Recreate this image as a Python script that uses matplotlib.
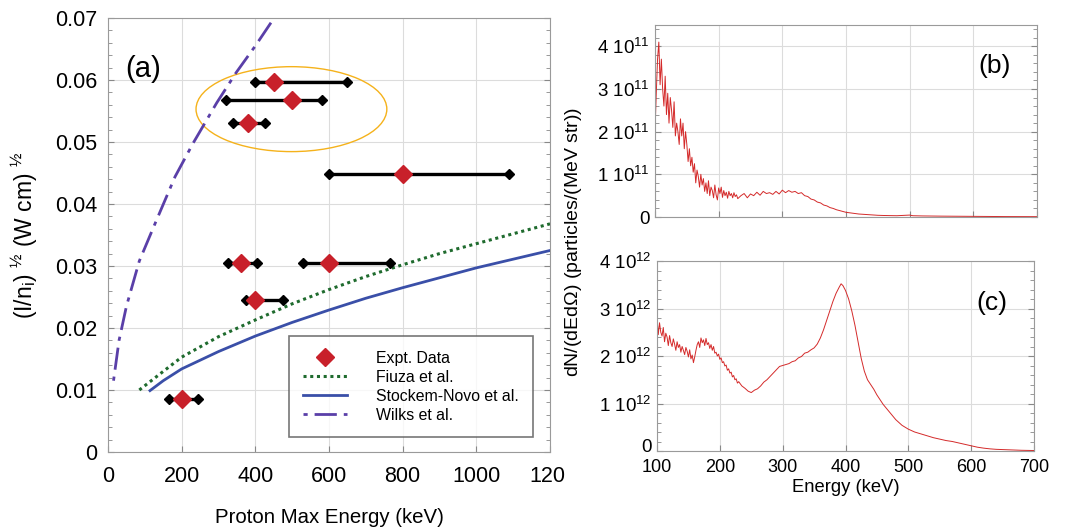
import numpy as np
import matplotlib
matplotlib.use("Agg")
import matplotlib.pyplot as plt
from matplotlib.patches import Ellipse
from matplotlib.transforms import ScaledTranslation
from matplotlib.ticker import MultipleLocator, FixedLocator, FixedFormatter

plt.rcParams['font.family'] = ['Liberation Sans', 'DejaVu Sans']
plt.rcParams['mathtext.fontset'] = 'custom'
plt.rcParams['mathtext.rm'] = 'Liberation Sans'
plt.rcParams['mathtext.it'] = 'Liberation Sans:italic'

# ---- panel (a) data ----
expt_e = [200, 360, 400, 600, 800, 380, 500, 450]
expt_y = [0.0085, 0.0305, 0.0245, 0.0305, 0.0448, 0.0530, 0.0567, 0.0597]
expt_lo = [165, 325, 375, 530, 600, 340, 320, 400]
expt_hi = [245, 405, 475, 765, 1090, 425, 580, 650]

wilks_e = [15, 30, 50, 85, 131, 182, 231, 295, 348, 400, 451]
wilks_y = [0.0115, 0.0180, 0.0235, 0.0308, 0.0373, 0.0444, 0.0498, 0.0563, 0.0612, 0.0655, 0.0700]

fiuza_e = [85, 150, 200, 300, 400, 500, 600, 700, 800, 900, 1000, 1100, 1200]
fiuza_y = [0.0100, 0.0130, 0.0153, 0.0186, 0.0213, 0.0239, 0.0262, 0.0283, 0.0302, 0.0320, 0.0336, 0.0352, 0.0368]

stock_e = [114, 150, 200, 250, 300, 400, 500, 600, 700, 800, 900, 1000, 1100, 1200]
stock_y = [0.0099, 0.0115, 0.0134, 0.0148, 0.0162, 0.0187, 0.0209, 0.0229, 0.0248, 0.0265, 0.0281, 0.0297, 0.0311, 0.0325]

# ---- panel (b) data (units of 1e11) ----
b_e = list(range(100, 232, 2)) + list(range(235, 405, 5)) + [410, 420, 430, 440, 450, 460, 480, 500, 505, 520, 550, 600, 650, 700]
b_v = [2.0, 2.9, 3.7, 4.1, 3.1, 3.7, 3.0, 2.6, 3.3, 2.4, 2.9, 2.2, 2.8, 2.5, 2.1, 2.7, 1.9, 2.2, 2.0, 1.7,
       2.3, 1.9, 2.2, 1.6, 2.0, 1.7, 1.3, 1.6, 1.2, 1.4, 1.05, 1.25, 0.8, 1.1, 0.95, 0.7, 1.0, 0.75, 0.9, 0.6,
       0.8, 0.55, 0.85, 0.5, 0.7, 0.62, 0.45, 0.75, 0.52, 0.4, 0.68, 0.55, 0.7, 0.46, 0.62, 0.5, 0.58, 0.44, 0.6, 0.5,
       0.55, 0.45, 0.57, 0.48, 0.52, 0.43,
       0.5, 0.55, 0.45, 0.54, 0.5, 0.58, 0.51, 0.6, 0.55, 0.57, 0.53, 0.6, 0.54, 0.63, 0.57, 0.62, 0.58, 0.6,
       0.55, 0.57, 0.5, 0.48, 0.42, 0.4, 0.35, 0.33, 0.28, 0.26, 0.22, 0.2, 0.17, 0.15, 0.13, 0.11,
       0.09, 0.07, 0.06, 0.05, 0.04, 0.035, 0.03, 0.045, 0.03, 0.025, 0.02, 0.015, 0.01, 0.008]

# ---- panel (c) data (units of 1e12) ----
c_e = sorted(set(list(range(100, 232, 2)) + list(range(235, 395, 5)) + [393, 396] + list(range(400, 500, 5)) +
                 [500, 510, 520, 530, 540, 550, 560, 570, 580, 590, 600, 610, 620, 630, 640, 660, 680, 700]))
c_v = [2.8, 2.45, 2.7, 2.5, 2.42, 2.6, 2.3, 2.48, 2.4, 2.22, 2.43, 2.28, 2.2, 2.36, 2.25, 2.12, 2.3, 2.18, 2.24, 2.08,
       2.2, 2.12, 2.03, 2.18, 2.1, 1.98, 2.13, 1.94, 2.02, 1.86, 1.98, 2.12, 2.24, 2.3, 2.18, 2.38, 2.28, 2.34, 2.22, 2.37,
       2.24, 2.28, 2.16, 2.24, 2.12, 2.2, 2.06, 2.08, 2.0, 2.04, 1.93, 1.96, 1.86, 1.88, 1.79, 1.81, 1.7, 1.73, 1.64, 1.66,
       1.56, 1.59, 1.5, 1.52, 1.43, 1.46,
       1.37, 1.32, 1.26, 1.23, 1.28, 1.31, 1.37, 1.45, 1.5, 1.57, 1.64, 1.71, 1.78, 1.8, 1.82, 1.84, 1.88, 1.9,
       1.96, 1.99, 2.06, 2.08, 2.13, 2.17, 2.25, 2.38, 2.55, 2.75, 2.95, 3.15, 3.32, 3.45,
       3.52, 3.48,
       3.38, 3.2, 2.95, 2.65, 2.3, 1.95, 1.68, 1.5, 1.4, 1.3, 1.18, 1.08, 0.98, 0.9, 0.82, 0.74, 0.66, 0.6, 0.54, 0.5,
       0.46, 0.4, 0.36, 0.32, 0.28, 0.25, 0.22, 0.2, 0.17, 0.14, 0.11, 0.08, 0.06, 0.045, 0.035, 0.025, 0.015, 0.01]

fig = plt.figure(figsize=(10.67, 5.31), dpi=100)
W, H = 1067, 531


def box(l, t, r, b):
    return [l / W, 1 - b / H, (r - l) / W, (b - t) / H]


spine_c = '#9a9a9a'
grid_c = '#dcdcdc'


def style(ax):
    for s in ax.spines.values():
        s.set_color(spine_c)
        s.set_linewidth(0.8)
    ax.grid(True, color=grid_c, linewidth=0.8)
    ax.set_axisbelow(True)
    ax.tick_params(which='both', direction='in', color='#888888', right=True)
    ax.tick_params(which='major', length=4)
    ax.tick_params(which='minor', length=3)


# ----- (a) -----
ax = fig.add_axes(box(108, 18, 550, 452))
style(ax)
ax.plot(wilks_e, wilks_y, color='#5a3fa8', lw=2, dashes=[1.5, 2.5, 8, 2.5], label='Wilks et al.', zorder=3)
ax.plot(fiuza_e, fiuza_y, color='#1f6b2e', lw=2.2, ls=(0, (1, 1.2)), label='Fiuza et al.', zorder=3)
ax.plot(stock_e, stock_y, color='#3a4fa8', lw=2, label='Stockem-Novo et al.', zorder=3)
for e, y, lo, hi in zip(expt_e, expt_y, expt_lo, expt_hi):
    ax.plot([lo, hi], [y, y], color='black', lw=2.4, marker='D', ms=5.5, zorder=4)
ax.plot(expt_e, expt_y, ls='none', marker='D', ms=9, color='#c8202a', mec='#c8202a', zorder=5, label='Expt. Data')
ax.add_patch(Ellipse((498, 0.0553), 518, 0.0137, fill=False, ec='#f5b21b', lw=1.0, zorder=2))
ax.set_xlim(0, 1200)
ax.set_ylim(0, 0.07)
ax.yaxis.set_minor_locator(MultipleLocator(0.002))
ax.set_xticks([0, 200, 400, 600, 800, 1000, 1200])
ax.set_xticklabels(['0', '200', '400', '600', '800', '1000', ''])
ax.set_yticks([0, 0.01, 0.02, 0.03, 0.04, 0.05, 0.06, 0.07])
ax.set_yticklabels(['0', '0.01', '0.02', '0.03', '0.04', '0.05', '0.06', '0.07'])
ax.tick_params(axis='x', which='major', labelsize=15.5, pad=10)
ax.tick_params(axis='y', which='major', labelsize=15.5, pad=8)
ax.annotate('120', xy=(1200, 0), xycoords=('data', 'axes fraction'), xytext=(-15, -10),
            textcoords='offset points', ha='left', va='top', fontsize=15.5, annotation_clip=False)
ax.set_xlabel('Proton Max Energy (keV)', fontsize=14.7, labelpad=15)
ax.set_ylabel(r'(I/n$_\mathregular{i}$) $^{\mathregular{½}}$ (W cm) $^{\mathregular{½}}$', fontsize=16.5)
ax.yaxis.set_label_coords(-0.155, 0.5)
ax.text(0.04, 0.865, '(a)', transform=ax.transAxes, fontsize=21)
h, l = ax.get_legend_handles_labels()
order = [3, 1, 2, 0]
leg = ax.legend([h[i] for i in order], [l[i] for i in order], loc='lower right',
                bbox_to_anchor=(0.9615, 0.035), fontsize=11.4, frameon=True, fancybox=False,
                handlelength=2.8, handletextpad=1.8, borderpad=0.9, labelspacing=0.25, borderaxespad=0)
leg.get_frame().set_edgecolor('#555555')
leg.get_frame().set_linewidth(1.2)

# ----- (b) -----
red = '#d42a2a'
axb = fig.add_axes(box(655, 25, 1037, 217))
style(axb)
axb.plot(b_e, np.array(b_v) * 1e11, color=red, lw=0.7)
axb.set_xlim(100, 700)
axb.set_ylim(0, 4.5e11)
axb.xaxis.set_major_locator(MultipleLocator(100))
axb.set_xticklabels([])
axb.yaxis.set_major_locator(FixedLocator([0, 1e11, 2e11, 3e11, 4e11]))
axb.yaxis.set_major_formatter(FixedFormatter(['0', r'1 10$^{11}$', r'2 10$^{11}$', r'3 10$^{11}$', r'4 10$^{11}$']))
axb.yaxis.set_minor_locator(MultipleLocator(0.2e11))
axb.tick_params(axis='y', labelsize=13.5, pad=4)
axb.text(0.93, 0.75, '(b)', transform=axb.transAxes, fontsize=19, ha='right')

# ----- (c) -----
axc = fig.add_axes(box(657, 261, 1034, 451))
style(axc)
axc.plot(c_e, np.array(c_v) * 1e12, color=red, lw=0.7)
axc.set_xlim(100, 700)
axc.set_ylim(0, 4e12)
axc.xaxis.set_major_locator(MultipleLocator(100))
axc.yaxis.set_major_locator(FixedLocator([0, 1e12, 2e12, 3e12, 4e12]))
axc.yaxis.set_major_formatter(FixedFormatter(['0', r'1 10$^{12}$', r'2 10$^{12}$', r'3 10$^{12}$', r'4 10$^{12}$']))
axc.yaxis.set_minor_locator(MultipleLocator(0.2e12))
axc.tick_params(axis='y', labelsize=13.5, pad=4)
axc.tick_params(axis='x', labelsize=13, pad=6)
axc.set_xlabel('Energy (keV)', fontsize=13.2, labelpad=2)
axc.text(0.93, 0.74, '(c)', transform=axc.transAxes, fontsize=19, ha='right')

# lift the "0" of (c) a little so it clears the "100" below
zero_lab = axc.yaxis.get_major_ticks()[0].label1
zero_lab.set_transform(zero_lab.get_transform() + ScaledTranslation(0, 4 / 72, fig.dpi_scale_trans))

fig.text(573 / W, 1 - 242 / H, r'dN/(dEd$\Omega$) (particles/(MeV str))', rotation=90,
         ha='center', va='center', fontsize=14)

fig.savefig('out.png', dpi=100)
